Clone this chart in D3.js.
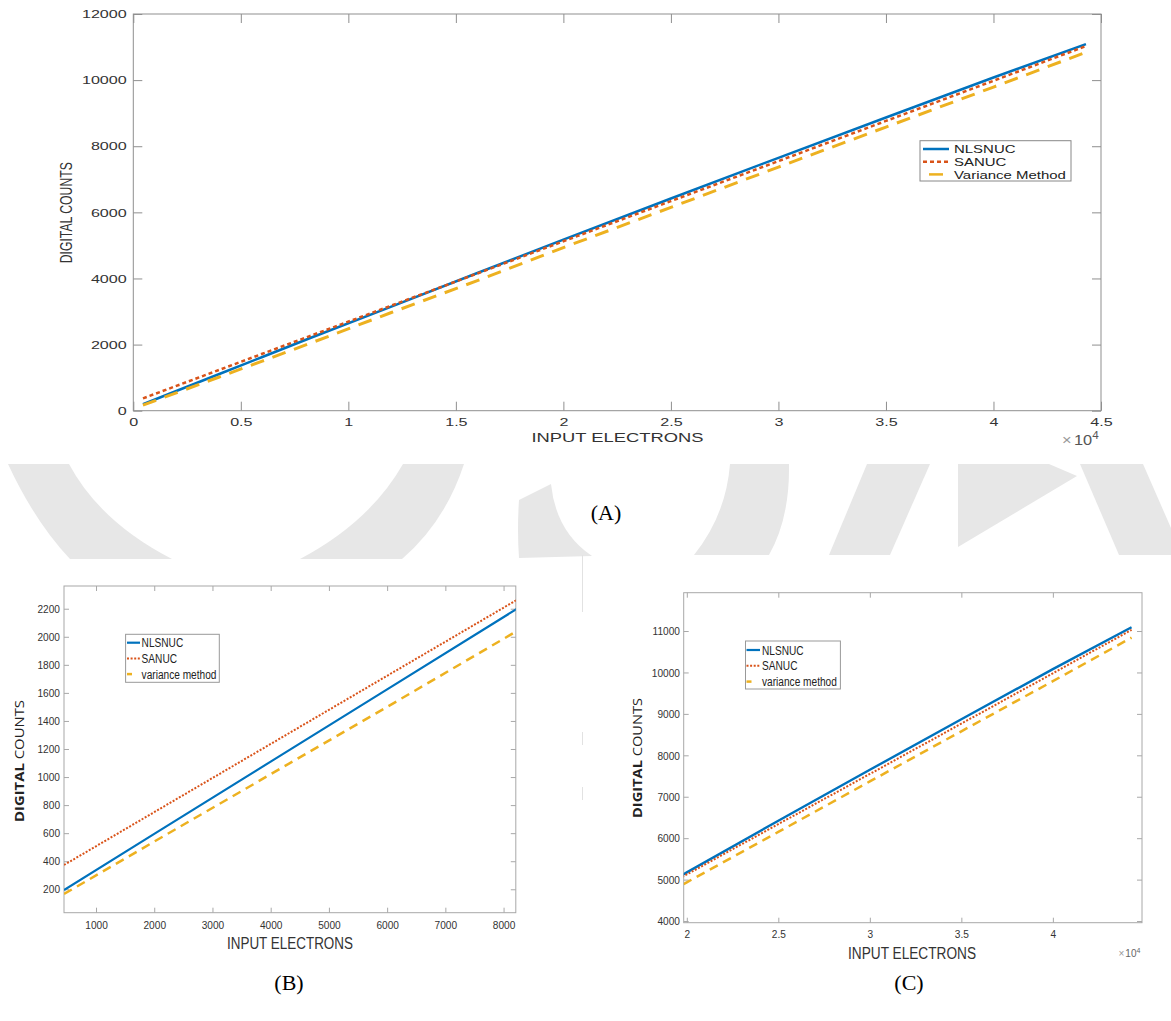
<!DOCTYPE html>
<html><head><meta charset="utf-8">
<script src="https://cdn.jsdelivr.net/npm/d3@7"></script>
<style>body{margin:0;background:#fff}svg{display:block}</style>
</head><body>
<script>
// ---------------- DATA ----------------
const electrons      = [450, 2000, 4000, 6000, 8200, 12000, 16000, 20000, 25000, 30000, 35000, 40000, 44300];
const nlsnuc         = [195, 595, 1110, 1625, 2192, 3150, 4165, 5175, 6420, 7650, 8870, 10080, 11090];
const sanuc          = [373, 750, 1236, 1722, 2256, 3180, 4150, 5125, 6340, 7550, 8765, 9980, 11030];
const varianceMethod = [166, 540, 1020, 1500, 2034, 2970, 3935, 4935, 6150, 7370, 8580, 9790, 10840];

const seriesNamesA  = ["NLSNUC", "SANUC", "Variance Method"];
const seriesNamesBC = ["NLSNUC", "SANUC", "variance method"];

const xTicksA = [0, 5000, 10000, 15000, 20000, 25000, 30000, 35000, 40000, 45000];
const xTickLabelsA = ["0", "0.5", "1", "1.5", "2", "2.5", "3", "3.5", "4", "4.5"];
const yTicksA = [0, 2000, 4000, 6000, 8000, 10000, 12000];
const yTickLabelsA = ["0", "2000", "4000", "6000", "8000", "10000", "12000"];

const xTicksB = [1000, 2000, 3000, 4000, 5000, 6000, 7000, 8000];
const xTickLabelsB = ["1000", "2000", "3000", "4000", "5000", "6000", "7000", "8000"];
const yTicksB = [200, 400, 600, 800, 1000, 1200, 1400, 1600, 1800, 2000, 2200];
const yTickLabelsB = ["200", "400", "600", "800", "1000", "1200", "1400", "1600", "1800", "2000", "2200"];

const xTicksC = [20000, 25000, 30000, 35000, 40000];
const xTickLabelsC = ["2", "2.5", "3", "3.5", "4"];
const yTicksC = [4000, 5000, 6000, 7000, 8000, 9000, 10000, 11000];
const yTickLabelsC = ["4000", "5000", "6000", "7000", "8000", "9000", "10000", "11000"];

const allSeries = [nlsnuc, sanuc, varianceMethod];

// ---------------- SETUP ----------------
const W = 1171, H = 1021;
const svg = d3.select("body").append("svg").attr("width", W).attr("height", H);
svg.append("rect").attr("width", W).attr("height", H).attr("fill", "#fff");
const defs = svg.append("defs");

function stretch(sel, f) {
  sel.each(function () {
    const n = this.getComputedTextLength();
    if (n > 0) d3.select(this).attr("textLength", n * f).attr("lengthAdjust", "spacingAndGlyphs");
  });
}

// ---------------- WATERMARK ----------------
const wm = svg.append("g").attr("fill", "#e7e7e7");
[
  "M8,464 L69,464 Q100,522 172,559 L70,559 Q35,522 8,464 Z",
  "M403,464 L464,464 Q445,522 402,559 L300,559 Q370,522 403,464 Z",
  "M519,500 L551,484 Q556,532 592,556 L519,558 Q517,530 519,500 Z",
  "M730,464 L789,464 Q790,518 769,555 L694,555 Q726,515 730,464 Z",
  "M867,464 L930,464 L890,555 L829,555 Z",
  "M958,464 L1049,464 L1077,476 L958,547 Z",
  "M1080,464 L1143,464 L1171,528 L1171,555 L1119,555 Z"
].forEach(d => wm.append("path").attr("d", d));
[[555, 612], [732, 745], [787, 800]].forEach(s =>
  svg.append("line").attr("x1", 582.5).attr("x2", 582.5).attr("y1", s[0]).attr("y2", s[1])
    .attr("stroke", "#e2e2e2").attr("stroke-width", 1));

// ---------------- PANELS ----------------
const colors = ["#0072BD", "#D95319", "#EDB120"];

function drawPanel(p) {
  const g = svg.append("g");
  const x = d3.scaleLinear().domain(p.xDomain).range([p.left, p.right]);
  const y = d3.scaleLinear().domain(p.yDomain).range([p.bottom, p.top]);
  const clipId = "clip" + p.id;
  defs.append("clipPath").attr("id", clipId).append("rect")
    .attr("x", p.left).attr("y", p.top).attr("width", p.right - p.left).attr("height", p.bottom - p.top);

  const tf = p.tickFont;
  function styleAxis(a, withText) {
    a.select(".domain").remove();
    a.selectAll(".tick line").attr("stroke", p.frame).attr("stroke-width", 1);
    a.selectAll(".tick text").attr("fill", tf.fill).style("font-family", tf.family).style("font-size", tf.size + "px");
    if (withText) stretch(a.selectAll(".tick text"), tf.f);
  }
  const ax = g.append("g").attr("transform", `translate(0,${p.bottom})`)
    .call(d3.axisBottom(x).tickValues(p.xTicks).tickFormat((d, i) => p.xTickLabels[i]).tickSize(-p.tick).tickPadding(p.xPad));
  styleAxis(ax, true);
  const axt = g.append("g").attr("transform", `translate(0,${p.top})`)
    .call(d3.axisTop(x).tickValues(p.xTicks).tickFormat("").tickSize(-p.tick));
  styleAxis(axt, false);
  const ay = g.append("g").attr("transform", `translate(${p.left},0)`)
    .call(d3.axisLeft(y).tickValues(p.yTicks).tickFormat((d, i) => p.yTickLabels[i]).tickSize(-p.tick).tickPadding(p.yPad));
  styleAxis(ay, true);
  const ayr = g.append("g").attr("transform", `translate(${p.right},0)`)
    .call(d3.axisRight(y).tickValues(p.yTicks).tickFormat("").tickSize(-p.tick));
  styleAxis(ayr, false);

  g.append("rect").attr("x", p.left).attr("y", p.top).attr("width", p.right - p.left).attr("height", p.bottom - p.top)
    .attr("fill", "none").attr("stroke", p.frame).attr("stroke-width", 1);

  const line = d3.line().x((d, i) => x(electrons[i])).y(d => y(d));
  const lg = g.append("g").attr("clip-path", `url(#${clipId})`);
  allSeries.forEach((s, k) => {
    const st = p.styles[k];
    lg.append("path").datum(s).attr("d", line).attr("fill", "none")
      .attr("stroke", colors[k]).attr("stroke-width", st.w)
      .attr("stroke-dasharray", st.dash || null);
  });

  // legend
  const L = p.legend;
  const leg = g.append("g");
  leg.append("rect").attr("x", L.x).attr("y", L.y).attr("width", L.w).attr("height", L.h)
    .attr("fill", "#fff").attr("stroke", L.stroke).attr("stroke-width", 1);
  p.names.forEach((name, k) => {
    const ry = L.y + L.off + k * L.step;
    const st = L.samples[k];
    leg.append("line").attr("x1", L.sx0).attr("x2", L.sx1).attr("y1", ry).attr("y2", ry)
      .attr("stroke", colors[k]).attr("stroke-width", st.w)
      .attr("stroke-dasharray", st.dash || null).attr("stroke-dashoffset", st.off || 0);
    const t = leg.append("text").attr("x", L.tx).attr("y", ry).attr("dy", "0.36em")
      .attr("fill", "#222").style("font-family", L.family).style("font-size", L.size + "px").text(name);
    stretch(t, L.f);
  });
  return { x, y };
}

// Panel A
drawPanel({
  id: "A", left: 133.3, right: 1101, top: 14, bottom: 410.7,
  xDomain: [0, 45000], yDomain: [0, 12000],
  xTicks: xTicksA, xTickLabels: xTickLabelsA, yTicks: yTicksA, yTickLabels: yTickLabelsA,
  tick: 9, frame: "#8f8f8f", xPad: 7, yPad: 6.6,
  tickFont: { family: "Liberation Sans", size: 11.5, f: 1.4, fill: "#333" },
  styles: [{ w: 2.5 }, { w: 2.5, dash: "4 3" }, { w: 3, dash: "14 9" }],
  names: seriesNamesA,
  legend: { x: 920, y: 140.7, w: 151, h: 40.3, off: 8.3, step: 12.7, sx0: 923, sx1: 949, tx: 954,
            family: "Liberation Sans", size: 11.5, f: 1.3, stroke: "#888",
            samples: [{ w: 2.5 }, { w: 2.5, dash: "4 3" }, { w: 2.5, dash: "14 9", off: 17 }] }
});

// Panel B
drawPanel({
  id: "B", left: 64, right: 515.8, top: 586, bottom: 912.7,
  xDomain: [450, 8210], yDomain: [33, 2362],
  xTicks: xTicksB, xTickLabels: xTickLabelsB, yTicks: yTicksB, yTickLabels: yTickLabelsB,
  tick: 5, frame: "#a8a8a8", xPad: 8.2, yPad: 4,
  tickFont: { family: "Liberation Sans", size: 11.5, f: 0.88, fill: "#333" },
  styles: [{ w: 2.2 }, { w: 2, dash: "2 1.6" }, { w: 2.5, dash: "9 6" }],
  names: seriesNamesBC,
  legend: { x: 125.6, y: 634.3, w: 93.7, h: 48, off: 8.4, step: 15.7, sx0: 127, sx1: 140, tx: 141.6,
            family: "Liberation Sans", size: 12.5, f: 0.81, stroke: "#999",
            samples: [{ w: 2.2 }, { w: 2, dash: "2 1.6" }, { w: 2.5, dash: "5 30" }] }
});

// Panel C
drawPanel({
  id: "C", left: 683.7, right: 1142, top: 592.7, bottom: 922.7,
  xDomain: [19830, 44870], yDomain: [3960, 11925],
  xTicks: xTicksC, xTickLabels: xTickLabelsC, yTicks: yTicksC, yTickLabels: yTickLabelsC,
  tick: 5, frame: "#a8a8a8", xPad: 7.5, yPad: 3.7,
  tickFont: { family: "Liberation Sans", size: 11.5, f: 0.88, fill: "#333" },
  styles: [{ w: 2.4 }, { w: 2, dash: "2 1.6" }, { w: 2.5, dash: "9 6" }],
  names: seriesNamesBC,
  legend: { x: 745.5, y: 641, w: 94.9, h: 48, off: 9, step: 15.8, sx0: 746.5, sx1: 760, tx: 762,
            family: "Liberation Sans", size: 12.5, f: 0.81, stroke: "#999",
            samples: [{ w: 2.2 }, { w: 2, dash: "2 1.6" }, { w: 2.5, dash: "5 30" }] }
});

// ---------------- LABELS ----------------
function label(x, y, txt, opts) {
  const t = svg.append("text").attr("x", x).attr("y", y).attr("dy", "0.36em")
    .attr("text-anchor", opts.anchor || "middle").attr("fill", opts.fill || "#333")
    .style("font-family", opts.family).style("font-size", opts.size + "px")
    .style("font-weight", opts.weight || "normal");
  if (opts.rotate) t.attr("transform", `rotate(-90,${x},${y})`);
  t.text(txt);
  if (opts.len) t.attr("textLength", opts.len).attr("lengthAdjust", "spacingAndGlyphs");
  return t;
}

// A labels
label(65.7, 212.7, "DIGITAL COUNTS", { family: "Liberation Sans", size: 17, len: 101, rotate: true, fill: "#333" });
label(617.5, 437, "INPUT ELECTRONS", { family: "Liberation Sans", size: 13, len: 172, fill: "#333" });
{
  const t = svg.append("text").attr("x", 1062).attr("y", 445).attr("fill", "#555")
    .style("font-family", "Liberation Sans").style("font-size", "14px");
  t.append("tspan").text("\u00d7").attr("fill", "#999");
  t.append("tspan").text("10").attr("dx", 2);
  t.append("tspan").text("4").attr("dy", -6).style("font-size", "10px");
  stretch(t, 1.25);
}
label(606, 512, "(A)", { family: "Liberation Serif", size: 22, fill: "#000" });

// B labels
{
  const t = svg.append("text").attr("x", 19.5).attr("y", 761).attr("dy", "0.36em").attr("text-anchor", "middle")
    .attr("transform", "rotate(-90,19.5,761)").attr("fill", "#222")
    .style("font-family", "Open Sans").style("font-size", "13px");
  t.append("tspan").text("DIGITAL").style("font-weight", "bold");
  t.append("tspan").text(" COUNTS");
  t.attr("textLength", 122).attr("lengthAdjust", "spacingAndGlyphs");
}
label(290, 943, "INPUT ELECTRONS", { family: "Liberation Sans", size: 16, len: 126, fill: "#333" });
label(289, 982, "(B)", { family: "Liberation Serif", size: 22, fill: "#000" });

// C labels
{
  const t = svg.append("text").attr("x", 637).attr("y", 758).attr("dy", "0.36em").attr("text-anchor", "middle")
    .attr("transform", "rotate(-90,637,758)").attr("fill", "#222")
    .style("font-family", "Open Sans").style("font-size", "13px");
  t.append("tspan").text("DIGITAL").style("font-weight", "bold");
  t.append("tspan").text(" COUNTS");
  t.attr("textLength", 120).attr("lengthAdjust", "spacingAndGlyphs");
}
label(912, 953, "INPUT ELECTRONS", { family: "Liberation Sans", size: 16, len: 128, fill: "#333" });
{
  const t = svg.append("text").attr("x", 1118.5).attr("y", 957).attr("fill", "#666")
    .style("font-family", "Liberation Sans").style("font-size", "10px");
  t.append("tspan").text("\u00d7").attr("fill", "#999");
  t.append("tspan").text("10").attr("dx", 1);
  t.append("tspan").text("4").attr("dy", -4).style("font-size", "7px");
}
label(909, 982, "(C)", { family: "Liberation Serif", size: 22, fill: "#000" });
</script>
</body></html>
